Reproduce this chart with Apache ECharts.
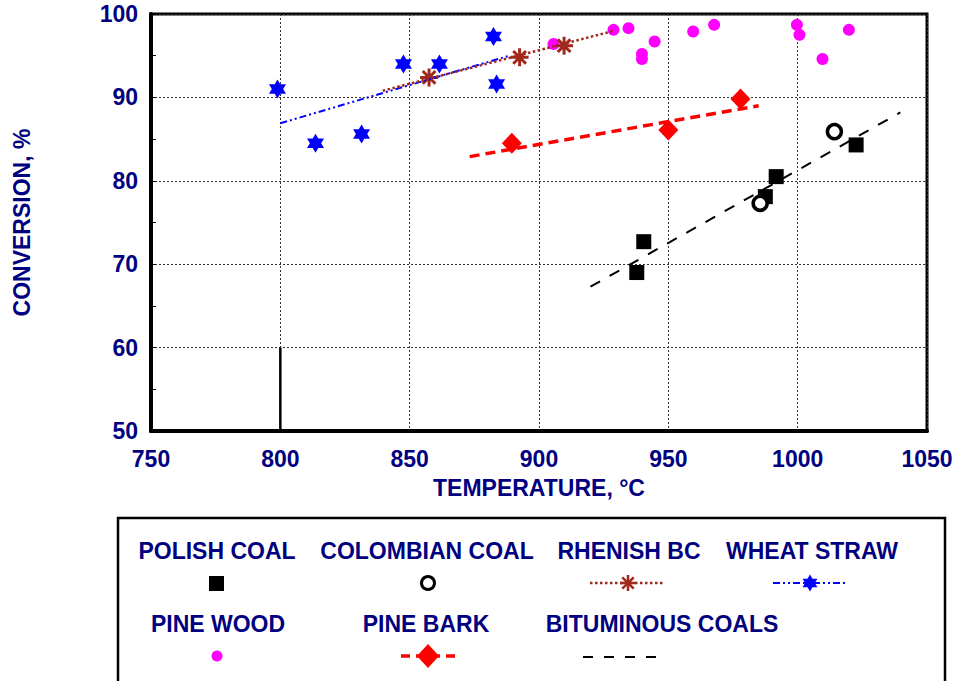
<!DOCTYPE html>
<html>
<head>
<meta charset="utf-8">
<script src="https://cdn.jsdelivr.net/npm/echarts@6/dist/echarts.min.js"></script>
<style>
html,body{margin:0;padding:0;background:#fff;}
#chart{width:958px;height:681px;}
</style>
</head>
<body>
<div id="chart"></div>
<script>
// ---- Data ----
var xTicks = [750, 800, 850, 900, 950, 1000, 1050];
var yTicks = [50, 60, 70, 80, 90, 100];

var polishCoalT = [937.8, 940.5, 987.5, 991.7, 1022.6];
var polishCoalC = [69.0, 72.7, 78.1, 80.5, 84.3];

var colombianCoalT = [985.5, 1014.2];
var colombianCoalC = [77.3, 85.9];

var rhenishT = [857.5, 892.5, 909.7];
var rhenishC = [92.4, 94.8, 96.2];
var rhenishFitT = [839.6, 929.1];
var rhenishFitC = [90.8, 98.0];

var wheatT = [798.9, 813.6, 831.4, 847.6, 861.5, 882.4, 883.6];
var wheatC = [91.0, 84.5, 85.6, 94.0, 94.0, 97.3, 91.6];
var wheatFitT = [800.0, 888.5];
var wheatFitC = [86.9, 95.0];

var pineWoodT = [905.6, 928.8, 934.6, 944.7, 939.8, 939.8, 959.6, 967.7, 999.7, 1000.7, 1019.8, 1009.6];
var pineWoodC = [96.4, 98.1, 98.3, 96.7, 95.2, 94.6, 97.9, 98.7, 98.7, 97.5, 98.1, 94.6];

var pineBarkT = [889.5, 950.0, 977.9];
var pineBarkC = [84.5, 86.1, 89.8];
var pineBarkFitT = [873.2, 984.9];
var pineBarkFitC = [82.9, 89.0];

var bitumFitT = [919.9, 1039.7];
var bitumFitC = [67.3, 88.2];

var markerLineT = [800, 800];
var markerLineC = [50, 60];

var legendNames = ['POLISH COAL', 'COLOMBIAN COAL', 'RHENISH BC', 'WHEAT STRAW', 'PINE WOOD', 'PINE BARK', 'BITUMINOUS COALS'];

// ---- helpers ----
function pairs(xs, ys) { return xs.map(function (x, i) { return [x, ys[i]]; }); }

var NAVY = '#000080';
var BROWN = '#A0281C';
var FONT = 'Liberation Sans, Arial, sans-serif';
var STAR = 'path://M0,-10L2.89,-5L8.66,-5L5.77,0L8.66,5L2.89,5L0,10L-2.89,5L-8.66,5L-5.77,0L-8.66,-5L-2.89,-5Z';
var ASTER = 'path://M0,-10L0,10M-10,0L10,0M-7.07,-7.07L7.07,7.07M-7.07,7.07L7.07,-7.07';

var chart = echarts.init(document.getElementById('chart'), null, {renderer: 'svg'});

var labelStyle = {color: NAVY, fontFamily: FONT, fontWeight: 'bold', fontSize: 23};
var splitStyle = {show: true, lineStyle: {color: '#333', width: 1, type: [2, 2]}};

// legend drawn as graphics (text above symbol layout)
var lg = [];
lg.push({type: 'rect', shape: {x: 118, y: 518, width: 827, height: 200}, style: {fill: '#fff', stroke: '#000', lineWidth: 2.5}, z: 1});
var textPos = [[217, 551], [427, 551], [629, 551], [812, 551], [218, 624], [426, 624], [662, 624]];
legendNames.forEach(function (n, i) {
  lg.push({type: 'text', x: textPos[i][0], y: textPos[i][1], z: 2,
    style: {text: n, fill: NAVY, font: 'bold 23px ' + FONT, align: 'center', verticalAlign: 'middle'}});
});
// symbols
lg.push({type: 'rect', shape: {x: 209, y: 576, width: 15, height: 15}, style: {fill: '#000'}, z: 2});
lg.push({type: 'circle', shape: {cx: 428, cy: 583, r: 6.5}, style: {fill: '#fff', stroke: '#000', lineWidth: 3}, z: 2});
lg.push({type: 'line', shape: {x1: 590, y1: 583, x2: 664, y2: 583}, style: {stroke: BROWN, lineWidth: 2.5, lineDash: [2.5, 2.5]}, z: 2});
[[0, -8, 0, 8], [-8, 0, 8, 0], [-5.7, -5.7, 5.7, 5.7], [-5.7, 5.7, 5.7, -5.7]].forEach(function (s) {
  lg.push({type: 'line', shape: {x1: 628 + s[0], y1: 583 + s[1], x2: 628 + s[2], y2: 583 + s[3]}, style: {stroke: BROWN, lineWidth: 2.5}, z: 3});
});
lg.push({type: 'line', shape: {x1: 773, y1: 583, x2: 845, y2: 583}, style: {stroke: '#0000FF', lineWidth: 2, lineDash: [7, 3, 2, 3, 2, 3]}, z: 2});
lg.push({type: 'polygon', shape: {points: [[810, 574.5], [817.4, 587.3], [802.6, 587.3]]}, style: {fill: '#0000FF'}, z: 3});
lg.push({type: 'polygon', shape: {points: [[810, 591.5], [817.4, 578.7], [802.6, 578.7]]}, style: {fill: '#0000FF'}, z: 3});
lg.push({type: 'circle', shape: {cx: 217, cy: 656, r: 5.5}, style: {fill: '#FF00FF'}, z: 2});
lg.push({type: 'line', shape: {x1: 401, y1: 656, x2: 456, y2: 656}, style: {stroke: '#FF0000', lineWidth: 3.5, lineDash: [9, 6]}, z: 2});
lg.push({type: 'polygon', shape: {points: [[428, 644], [439, 656], [428, 668], [417, 656]]}, style: {fill: '#FF0000'}, z: 3});
lg.push({type: 'line', shape: {x1: 583, y1: 657, x2: 663, y2: 657}, style: {stroke: '#000', lineWidth: 2, lineDash: [10, 11]}, z: 2});

var option = {
  animation: false,
  backgroundColor: '#fff',
  grid: {left: 151, right: 31, top: 14, bottom: 250, show: true, borderColor: '#000', borderWidth: 3, containLabel: false},
  xAxis: {
    type: 'value', min: 750, max: 1050, interval: 50,
    name: 'TEMPERATURE, °C', nameLocation: 'middle', nameGap: 45,
    nameTextStyle: labelStyle,
    axisLine: {show: true, onZero: false, lineStyle: {color: '#000', width: 4}},
    axisTick: {show: false},
    axisLabel: Object.assign({margin: 16, formatter: function (v) { return xTicks.indexOf(v) >= 0 ? String(v) : ''; }}, labelStyle),
    splitLine: splitStyle
  },
  yAxis: {
    type: 'value', min: 50, max: 100, interval: 10,
    name: 'CONVERSION, %', nameLocation: 'middle', nameGap: 118, nameRotate: 90,
    nameTextStyle: labelStyle,
    axisLine: {show: true, onZero: false, lineStyle: {color: '#000', width: 4}},
    axisTick: {show: true, inside: true, length: 5, lineStyle: {color: '#000', width: 1}},
    minorTick: {show: true, splitNumber: 2, length: 5, lineStyle: {color: '#000', width: 1}},
    axisLabel: Object.assign({margin: 13, formatter: function (v) { return yTicks.indexOf(v) >= 0 ? String(v) : ''; }}, labelStyle),
    splitLine: splitStyle
  },
  graphic: lg,
  series: [
    {name: 'marker', type: 'line', data: pairs(markerLineT, markerLineC), symbol: 'none', lineStyle: {color: '#000', width: 2.5}, z: 2},
    {name: 'PINE WOOD', type: 'scatter', data: pairs(pineWoodT, pineWoodC), symbol: 'circle', symbolSize: 12, itemStyle: {color: '#FF00FF', opacity: 1}, z: 3},
    {name: 'WHEAT STRAW', type: 'scatter', data: pairs(wheatT, wheatC), symbol: STAR, symbolSize: [17, 19], itemStyle: {color: '#0000FF', opacity: 1}, z: 3},
    {name: 'RHENISH BC', type: 'scatter', data: pairs(rhenishT, rhenishC), symbol: ASTER, symbolSize: 18, itemStyle: {color: BROWN, borderColor: BROWN, borderWidth: 3, opacity: 1}, z: 4},
    {name: 'PINE BARK', type: 'scatter', data: pairs(pineBarkT, pineBarkC), symbol: 'diamond', symbolSize: [20, 21], itemStyle: {color: '#FF0000', opacity: 1}, z: 3},
    {name: 'POLISH COAL', type: 'scatter', data: pairs(polishCoalT, polishCoalC), symbol: 'rect', symbolSize: 15, itemStyle: {color: '#000', opacity: 1}, z: 3},
    {name: 'COLOMBIAN COAL', type: 'scatter', data: pairs(colombianCoalT, colombianCoalC), symbol: 'circle', symbolSize: 14, itemStyle: {color: '#fff', borderColor: '#000', borderWidth: 3.5, opacity: 1}, z: 3},
    {name: 'WHEAT STRAW fit', type: 'line', data: pairs(wheatFitT, wheatFitC), symbol: 'none', lineStyle: {color: '#0000FF', width: 2, type: [7, 3, 2, 3, 2, 3]}, z: 5},
    {name: 'RHENISH BC fit', type: 'line', data: pairs(rhenishFitT, rhenishFitC), symbol: 'none', lineStyle: {color: BROWN, width: 2.5, type: [2.5, 2.5]}, z: 5},
    {name: 'PINE BARK fit', type: 'line', data: pairs(pineBarkFitT, pineBarkFitC), symbol: 'none', lineStyle: {color: '#FF0000', width: 3.5, type: [10, 6]}, z: 5},
    {name: 'BITUMINOUS COALS', type: 'line', data: pairs(bitumFitT, bitumFitC), symbol: 'none', lineStyle: {color: '#000', width: 2, type: [11, 11]}, z: 5}
  ]
};
chart.setOption(option);
</script>
</body>
</html>
